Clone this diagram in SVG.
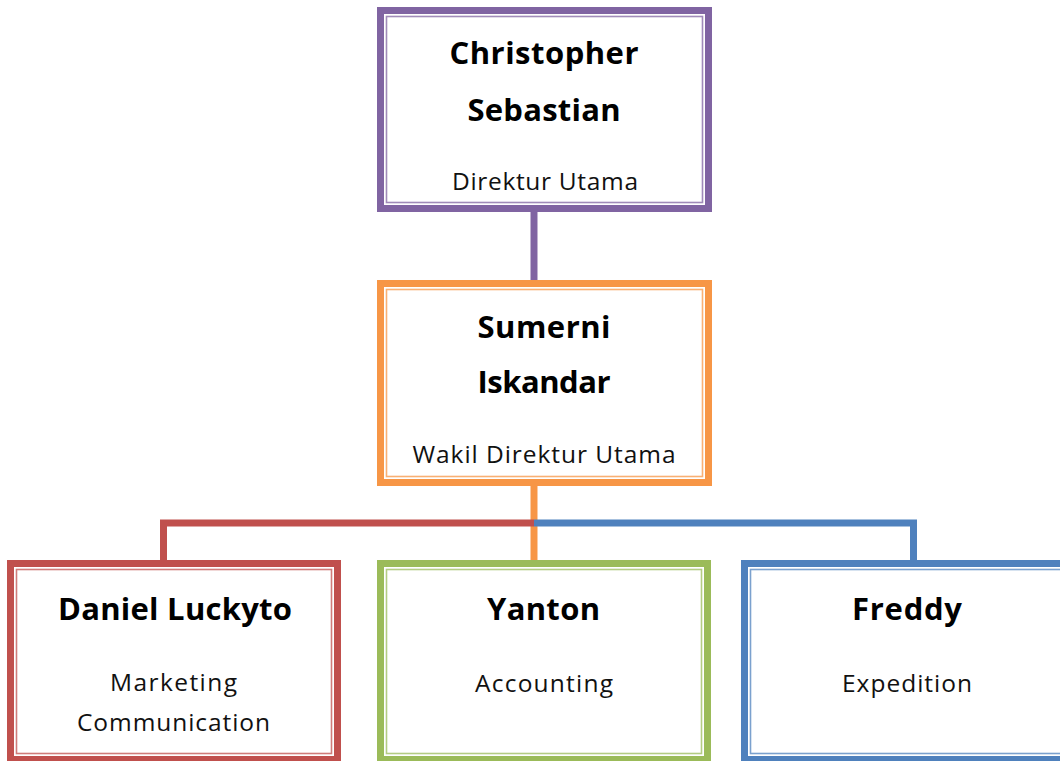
<svg xmlns="http://www.w3.org/2000/svg" width="1060" height="761" viewBox="0 0 1060 761">
<style>
.name{font-family:"Open Sans","Noto Sans",sans-serif;font-weight:bold;font-size:31px;fill:#000;text-anchor:middle}
.role{font-family:"Open Sans","Noto Sans",sans-serif;font-size:24.5px;fill:#111;text-anchor:middle}
.outer{fill:#fff;stroke-width:7}
.inner{fill:none;stroke-width:1.6;stroke-opacity:0.75}
.conn{fill:none;stroke-width:7;stroke-linejoin:miter;stroke-linecap:butt}
.purple{stroke:#8064A2}.orange{stroke:#F79646}.red{stroke:#C0504D}.green{stroke:#9BBB59}.blue{stroke:#4F81BD}
</style>
<rect width="1060" height="761" fill="#fff"/>
<g id="connectors">
<line class="conn purple" x1="534" y1="208" x2="534" y2="284"/>
<line class="conn orange" x1="534" y1="482" x2="534" y2="564"/>
<path class="conn red" d="M534,523 H163.5 V564"/>
<path class="conn blue" d="M534,523 H913.5 V564"/>
</g>
<g id="node-christopher">
<rect class="outer purple" x="380.5" y="10.5" width="328" height="198"/>
<rect class="inner purple" x="386.5" y="16.5" width="316" height="186"/>
<text class="name" x="544" y="64" textLength="189">Christopher</text>
<text class="name" x="544" y="121" textLength="153">Sebastian</text>
<text class="role" x="545" y="190" textLength="186">Direktur Utama</text>
</g>
<g id="node-sumerni">
<rect class="outer orange" x="380.5" y="283.5" width="328" height="199"/>
<rect class="inner orange" x="386.5" y="289.5" width="316" height="187"/>
<text class="name" x="544" y="338" textLength="133">Sumerni</text>
<text class="name" x="544" y="393" textLength="133">Iskandar</text>
<text class="role" x="544" y="463" textLength="263">Wakil Direktur Utama</text>
</g>
<g id="node-daniel">
<rect class="outer red" x="10.5" y="563.5" width="327" height="196"/>
<rect class="inner red" x="16.5" y="569.5" width="315" height="184"/>
<text class="name" x="175" y="620" textLength="234">Daniel Luckyto</text>
<text class="role" x="173.5" y="691" textLength="127">Marketing</text>
<text class="role" x="173.5" y="731" textLength="193">Communication</text>
</g>
<g id="node-yanton">
<rect class="outer green" x="380.5" y="563.5" width="327" height="196"/>
<rect class="inner green" x="386.5" y="569.5" width="315" height="184"/>
<text class="name" x="543.5" y="620" textLength="113">Yanton</text>
<text class="role" x="544" y="692" textLength="138">Accounting</text>
</g>
<g id="node-freddy">
<rect class="outer blue" x="744.5" y="563.5" width="327" height="196"/>
<rect class="inner blue" x="750.5" y="569.5" width="315" height="184"/>
<text class="name" x="907" y="620" textLength="110">Freddy</text>
<text class="role" x="907" y="692" textLength="130">Expedition</text>
</g>
</svg>
